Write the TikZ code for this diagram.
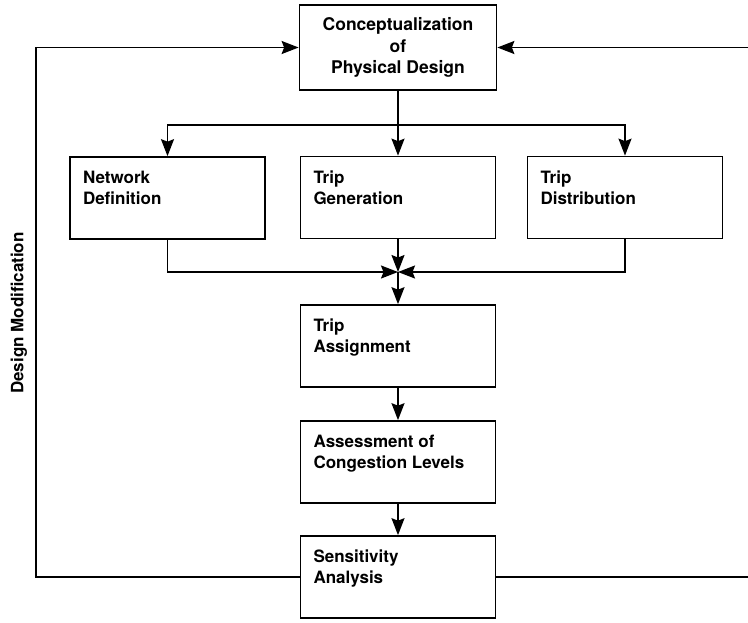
\documentclass[tikz,border=0pt]{standalone}
\usepackage{fontspec}
\setmainfont{TeX Gyre Heros}
\usetikzlibrary{arrows.meta}
\newcommand{\stagetext}[1]{\parbox[c][54pt][t]{169pt}{#1}}

\begin{document}
\begin{tikzpicture}[x=1pt, y=-1pt, line width=1.7pt, >={Stealth[length=17pt,width=13pt,inset=2.5pt]},
  stage/.style={draw, inner xsep=13pt, inner ysep=14pt, minimum width=195pt, minimum height=82pt, font=\fontsize{17}{21}\selectfont\bfseries},
  topstage/.style={draw, align=center, minimum width=197pt, minimum height=85pt, font=\fontsize{17.5}{21.5}\selectfont\bfseries}]
      \clip (0,0) rectangle (748,622);
      \node[topstage] (concept) at (398,47.5) {Conceptualization\\of\\Physical Design};
      \node[stage] (network) at (167.5,198) {\stagetext{Network\\Definition}};
      \node[stage] (gen) at (398,197.5) {\stagetext{Trip\\Generation}};
      \node[stage] (dist) at (625,197.5) {\stagetext{Trip\\Distribution}};
      \node[stage] (assign) at (398,346) {\stagetext{Trip\\Assignment}};
      \node[stage] (assess) at (398,462) {\stagetext{Assessment of\\Congestion Levels}};
      \node[stage] (sens) at (398,577) {\stagetext{Sensitivity\\Analysis}};
      \node[rotate=90, font=\fontsize{17}{21}\selectfont\bfseries] (modify) at (19,313) {Design Modification};
      \coordinate (split) at (398,125);
      \coordinate (join) at (398,272);
      \draw[->] (concept) -- (gen);
      \draw[->] (split) -| (network);
      \draw[->] (split) -| (dist);
      \draw[->] (network) |- (join);
      \draw[->] (dist) |- (join);
      \draw[->] (gen) -- (join);
      \draw[->] (join) -- (assign);
      \draw[->] (assign) -- (assess);
      \draw[->] (assess) -- (sens);
      \draw[->] (sens) -- (36,577) -- (36,47.5) -- (concept);
      \draw[->] (sens) -- (752,577) -- (752,47.5) -- (concept);
\end{tikzpicture}
\end{document}
